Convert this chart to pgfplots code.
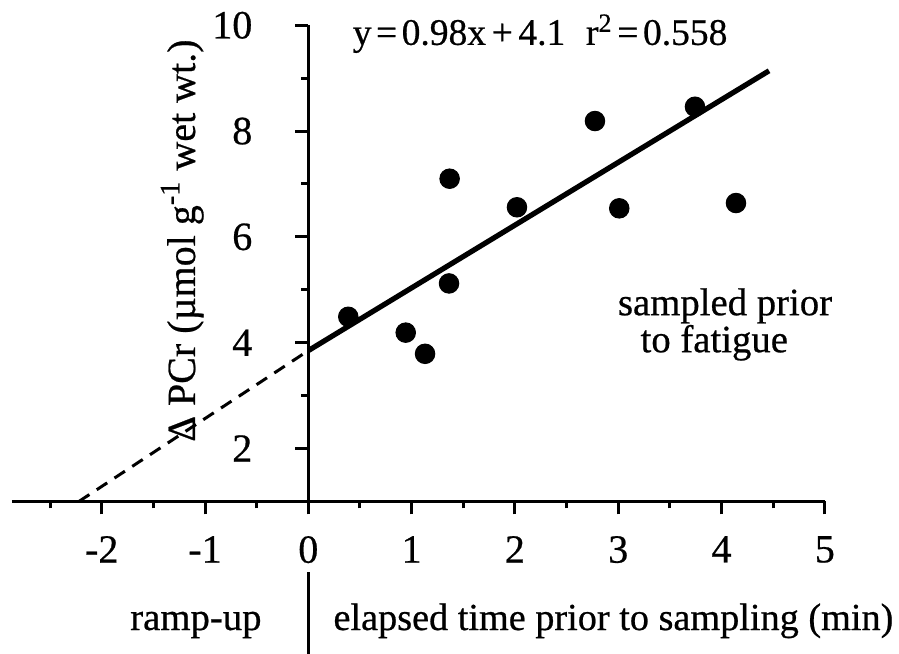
\documentclass[border=0pt]{standalone}
\usepackage{fontspec}
\setmainfont{Liberation Serif}[FakeBold=0.6]
\usepackage{pgfplots}
\pgfplotsset{compat=1.18}
\begin{document}
\begin{tikzpicture}
\begin{axis}[
  x=41.32pt, y=21.16pt,
  xmin=-2.87, xmax=5, ymin=1, ymax=10,
  axis x line=bottom, axis y line=middle,
  axis line style={-, line width=1.4pt},
  hide obscured x ticks=false, hide obscured y ticks=false,
  xtick={-2,-1,0,1,2,3,4,5},
  xticklabels={-2,-1,0,1,2,3,4,5},
  minor xtick={-2.5,-1.5,-0.5,0.5,1.5,2.5,3.5,4.5},
  ytick={2,4,6,8,10},
  yticklabels={2,4,6,8,10},
  minor ytick={3,5,7,9},
  tick align=outside,
  major tick length=5.2pt, minor tick length=2.8pt,
  every tick/.style={black, line width=1.2pt},
  tick label style={font=\fontsize{16}{18}\selectfont, inner sep=0pt},
  xticklabel style={anchor=north, yshift=-8.5pt},
  yticklabel style={anchor=east, xshift=-17pt},
  clip=false,
]
\addplot[only marks, mark=*, mark size=3.9pt, black] coordinates {
  (0.387,4.49) (0.943,4.19) (1.13,3.79) (1.368,7.10) (1.362,5.12)
  (2.02,6.56) (2.775,8.19) (3.743,8.46) (3.01,6.54) (4.14,6.64)
};
\addplot[black, line width=2.1pt] coordinates {(0,3.85) (4.46,9.14)};
\addplot[black, line width=1.2pt, dash pattern=on 5pt off 3.5pt] coordinates {(-2.22,1) (0,3.85)};
\node[anchor=base, rotate=90, inner sep=0pt, font=\fontsize{16}{18}\selectfont] at (axis cs:-1.097,5.93) {Δ PCr (µmol g\textsuperscript{-1} wet wt.)};
\node[anchor=base west, inner sep=0pt, font=\fontsize{15}{18}\selectfont] at (axis cs:0.426,9.63) {y\hspace{0.12em}=\hspace{0.12em}0.98x\hspace{0.15em}+\hspace{0.15em}4.1\hspace{0.55em}r\textsuperscript{2}\hspace{0.12em}=\hspace{0.12em}0.558};
\node[anchor=base, inner sep=0pt, font=\fontsize{15.5}{18}\selectfont] at (axis cs:4.034,4.52) {sampled prior};
\node[anchor=base, inner sep=0pt, font=\fontsize{15.5}{18}\selectfont] at (axis cs:3.93,3.82) {to fatigue};
\node[anchor=base east, inner sep=0pt, font=\fontsize{15.5}{18}\selectfont] at (axis cs:-0.448,-1.431) {ramp-up};
\node[anchor=base west, inner sep=0pt, font=\fontsize{15.3}{18}\selectfont] at (axis cs:0.239,-1.431) {elapsed time prior to sampling (min)};
\draw[line width=1.2pt] (axis cs:0,-0.335) -- (axis cs:0,-1.885);
\coordinate (BL) at (axis cs:-2.9845,-1.8847);
\coordinate (TR) at (axis cs:5.718,10.478);
\end{axis}
\pgfresetboundingbox
\useasboundingbox (BL) rectangle (TR);
\end{tikzpicture}
\end{document}
